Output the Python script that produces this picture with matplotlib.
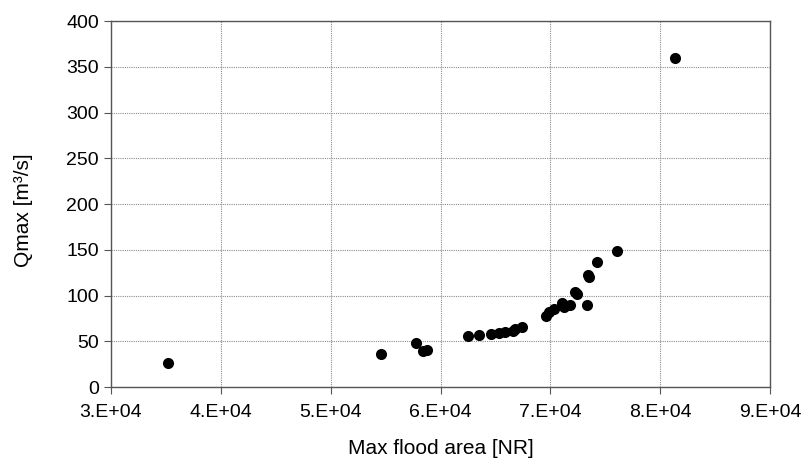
import matplotlib
matplotlib.use("Agg")
import matplotlib.pyplot as plt
from matplotlib.ticker import FuncFormatter, MultipleLocator

plt.rcParams['font.family'] = ['Liberation Sans', 'DejaVu Sans']

flood_area = [35190, 54560, 57790, 58420, 58790, 62540, 63540, 64590, 65290, 65890,
              66560, 66800, 67400, 69570, 69880, 70360, 71020, 71270, 71750, 72240,
              72390, 73330, 73440, 73540, 74230, 76100, 81330]
qmax = [26, 36, 48.4, 39.7, 40.4, 55.4, 56.8, 58.3, 59.3, 60,
        61.5, 63, 65.2, 78, 82, 85.6, 91.5, 87, 89.3, 104,
        101.6, 90, 122.4, 120.5, 137, 148.3, 359.6]

fig = plt.figure(figsize=(8.09, 4.61), dpi=100)
ax = fig.add_axes([0.137, 0.1605, 0.815, 0.7935])
ax.scatter(flood_area, qmax, s=64, color='black', zorder=3, linewidths=0)

ax.set_xlim(30000, 90000)
ax.set_ylim(0, 400)
ax.xaxis.set_major_locator(MultipleLocator(10000))
ax.yaxis.set_major_locator(MultipleLocator(50))
ax.xaxis.set_major_formatter(FuncFormatter(lambda v, p: f"{int(round(v/10000))}.E+04"))
ax.grid(True, color='#8c8c8c', linestyle=(0, (1, 1)), linewidth=0.8)
ax.set_axisbelow(True)
for s in ax.spines.values():
    s.set_color('#555555')
    s.set_linewidth(1.0)
ax.tick_params(axis='both', direction='out', length=5, color='#555555', labelsize=14)
ax.tick_params(axis='x', pad=7)
ax.set_xlabel("Max flood area [NR]", fontsize=15)
ax.set_ylabel("Qmax [m³/s]", fontsize=15)
ax.xaxis.set_label_coords(0.5, -0.143)
ax.yaxis.set_label_coords(-0.118, 0.484)

fig.savefig("out.png", dpi=100)
